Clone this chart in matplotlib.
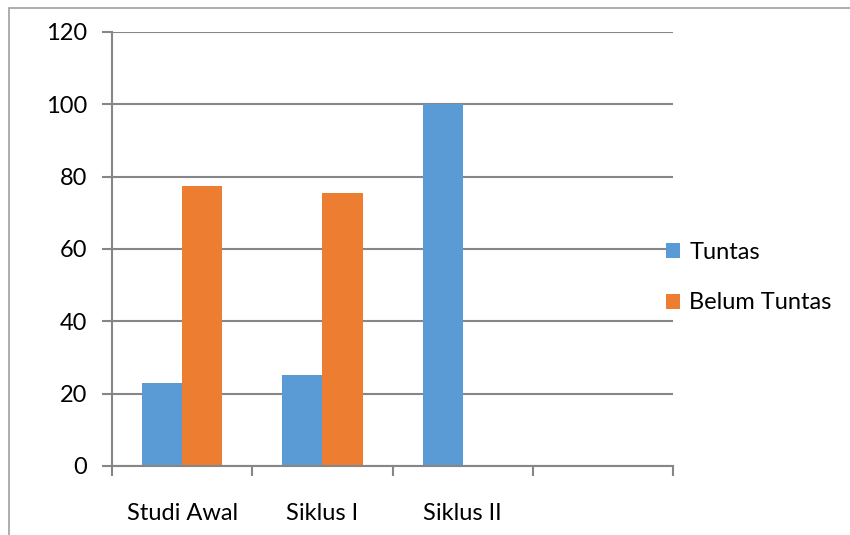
import numpy as np
import matplotlib
matplotlib.use('Agg')
import matplotlib.pyplot as plt
import matplotlib.patches as mpatches

plt.rcParams['font.family'] = ['Lato', 'DejaVu Sans']

categories = ['Studi Awal', 'Siklus I', 'Siklus II', '']
tuntas = [23.0, 25.2, 100.0, 0]
belum_tuntas = [77.4, 75.4, 0, 0]

blue = '#5B9BD5'
orange = '#ED7D31'
grey = '#868686'

fig = plt.figure(figsize=(8.5, 5.35), dpi=100)
ax = fig.add_axes([0.1318, 0.129, 0.66, 0.8112])

x = np.arange(len(categories))
w = 0.286
ax.bar(x - w / 2, tuntas, w, color=blue, label='Tuntas', zorder=3)
ax.bar(x + w / 2, belum_tuntas, w, color=orange, label='Belum Tuntas', zorder=3)

ax.set_xlim(-0.5, len(categories) - 0.5)
ax.set_ylim(0, 120)
ax.set_yticks(range(0, 121, 20))
ax.yaxis.grid(True, color=grey, linewidth=1.5, zorder=0)

ax.set_xticks(x)
ax.set_xticklabels(categories)
ax.set_xticks(np.arange(-0.5, len(categories), 1), minor=True)
ax.tick_params(axis='x', which='major', length=0, pad=27, labelsize=17)
ax.tick_params(axis='x', which='minor', length=7, width=1.5, color=grey, direction='out')
ax.tick_params(axis='y', length=7, width=1.5, color=grey, labelsize=17, pad=11)

for s in ['top', 'right']:
    ax.spines[s].set_visible(False)
for s in ['left', 'bottom']:
    ax.spines[s].set_color(grey)
    ax.spines[s].set_linewidth(1.5)
    ax.spines[s].set_zorder(4)

ax.legend(frameon=False, loc='center left', bbox_to_anchor=(0.758, 0.481),
          bbox_transform=fig.transFigure, fontsize=17, handlelength=0.6,
          handleheight=0.6, handletextpad=0.4, labelspacing=1.25)

# outer chart frame
fig.patches.append(mpatches.Rectangle((0.0105, -0.1), 1.2, 1.085, transform=fig.transFigure,
                                      fill=False, edgecolor='#A0A0A0', linewidth=1.2))

fig.savefig('out.png', dpi=100)
